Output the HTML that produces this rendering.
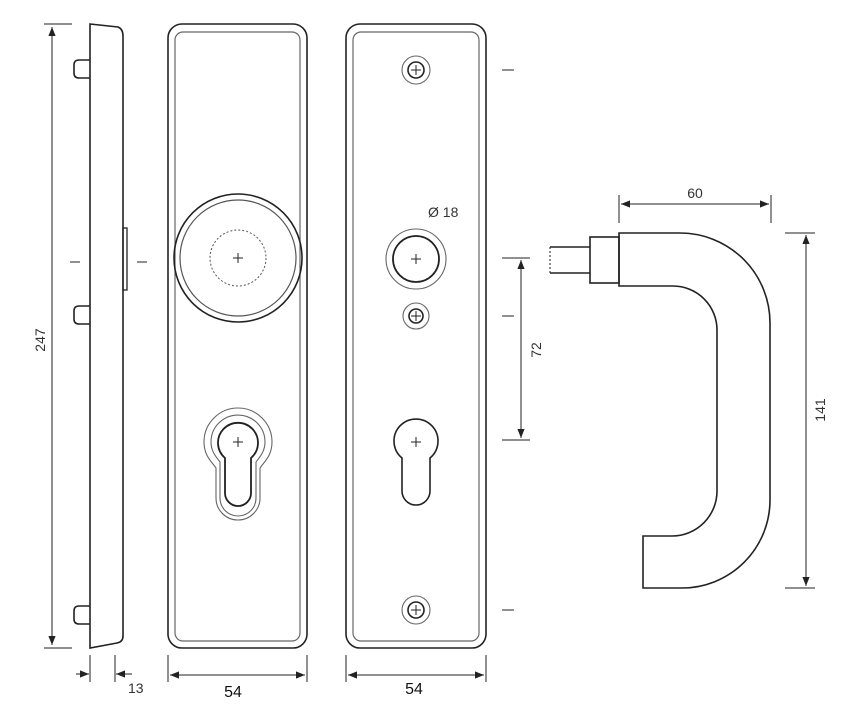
<!DOCTYPE html>
<html><head><meta charset="utf-8"><style>html,body{margin:0;padding:0;background:#fff}svg{display:block}</style></head><body>
<svg width="860" height="722" viewBox="0 0 860 722" xmlns="http://www.w3.org/2000/svg" font-family="Liberation Sans, sans-serif">
<defs>
<marker id="a" viewBox="0 0 10 10" refX="10" refY="5" markerWidth="9" markerHeight="9" orient="auto-start-reverse" markerUnits="userSpaceOnUse"><path d="M0,1 L10,5 L0,9 Z" fill="#222"/></marker>
</defs>
<g fill="none" stroke="#222" stroke-width="1.6">
<!-- side profile -->
<path d="M90,24 L118,27 Q123,29 123,36 V636 Q123,642 117,643 L90,648 Z"/>
<path d="M90,60 H79 Q74,60 74,65 V73 Q74,78 79,78 H90"/>
<path d="M90,306 H79 Q74,306 74,311 V319 Q74,324 79,324 H90"/>
<path d="M90,606 H79 Q74,606 74,611 V619 Q74,624 79,624 H90"/>
<rect x="123" y="228" width="4" height="62" stroke-width="1.3"/>
<!-- plate 1 -->
<rect x="168" y="24" width="139" height="624" rx="14"/>
<rect x="175" y="32" width="125" height="609" rx="8" stroke="#666" stroke-width="1.2"/>
<circle cx="238" cy="258" r="64"/>
<circle cx="238" cy="258" r="58" stroke="#555" stroke-width="1.2"/>
<circle cx="238" cy="258" r="28" stroke="#555" stroke-width="1" stroke-dasharray="2,2"/>
<path d="M238,442 m-34,0 a34,34 0 0 1 68,0 c0,14 -8,20 -12,26 V498 a16,16 0 0 1 -44,0 V468 c-4,-6 -12,-12 -12,-26 Z" stroke="#666" stroke-width="1.1"/>
<path d="M238,442 m-27,0 a27,27 0 0 1 54,0 c0,10 -6,16 -9,20 V498 a9,9 0 0 1 -36,0 V462 c-3,-4 -9,-10 -9,-20 Z" stroke="#666" stroke-width="1.1"/>
<path d="M225,458 A20,20 0 1 1 251,458 V493 a13,13 0 0 1 -26,0 Z" stroke-width="1.8"/>
<!-- plate 2 -->
<rect x="346" y="24" width="140" height="624" rx="14"/>
<rect x="353" y="32" width="126" height="609" rx="8" stroke="#666" stroke-width="1.2"/>
<circle cx="416" cy="70" r="14" stroke="#666" stroke-width="1.1"/><circle cx="416" cy="70" r="8"/>
<circle cx="416" cy="316" r="13" stroke="#666" stroke-width="1.1"/><circle cx="416" cy="316" r="7"/>
<circle cx="416" cy="610" r="14" stroke="#666" stroke-width="1.1"/><circle cx="416" cy="610" r="8"/>
<circle cx="416" cy="259" r="30" stroke="#666" stroke-width="1.1"/><circle cx="416" cy="259" r="23" stroke-width="1.8"/>
<path d="M402,458 A22,22 0 1 1 430,458 V491 a14,14 0 0 1 -28,0 Z"/>
<!-- handle -->
<path d="M550,247 H590 M550,273 H590"/><path d="M550,247 V273" stroke-width="1" stroke-dasharray="2,2"/>
<rect x="590" y="237" width="29" height="46"/>
<path d="M619,233 H680 A90,90 0 0 1 770,323 V500 A88,88 0 0 1 682,588 H643 V536 H672 A45,45 0 0 0 717,491 V330 A44,44 0 0 0 673,286 H619 Z"/>
</g>
<g fill="none" stroke="#222" stroke-width="1">
<!-- crosses -->
<path d="M233,258 H243 M238,253 V263 M233,442 H243 M238,437 V447 M411,259 H421 M416,254 V264 M411,442 H421 M416,437 V447"/>
<path d="M411,70 H421 M416,65 V75 M411,316 H421 M416,311 V321 M411,610 H421 M416,605 V615"/>
<!-- small dashes -->
<path d="M70,262 H80 M137,262 H147 M502,70 H514 M502,316 H514 M502,610 H514"/>
<!-- 247 -->
<path d="M44,24 H72 M44,648 H72"/>
<path d="M52,27 V645" marker-start="url(#a)" marker-end="url(#a)"/>
<!-- 13 -->
<path d="M90,655 V682 M115,655 V682"/>
<path d="M76,674 H89" marker-end="url(#a)"/><path d="M132,674 H116" marker-end="url(#a)"/>
<!-- 54 -->
<path d="M168,655 V682 M307,655 V682 M346,655 V682 M486,655 V682"/>
<path d="M170,675 H305" marker-start="url(#a)" marker-end="url(#a)"/>
<path d="M348,675 H484" marker-start="url(#a)" marker-end="url(#a)"/>
<!-- 72 -->
<path d="M502,258 H530 M502,440 H530"/>
<path d="M521,260 V438" marker-start="url(#a)" marker-end="url(#a)"/>
<!-- 60 -->
<path d="M619,195 V223 M771,195 V223"/>
<path d="M621,204 H769" marker-start="url(#a)" marker-end="url(#a)"/>
<!-- 141 -->
<path d="M785,233 H815 M785,588 H815"/>
<path d="M806,235 V586" marker-start="url(#a)" marker-end="url(#a)"/>
</g>
<g fill="#333" font-size="14">
<text x="45" y="340" transform="rotate(-90 45 340)" text-anchor="middle">247</text>
<text x="128" y="693">13</text>
<text x="233" y="697" text-anchor="middle" font-size="16" fill="#111">54</text>
<text x="414" y="694" text-anchor="middle" font-size="16" fill="#111">54</text>
<text x="428" y="217">Ø 18</text>
<text x="541" y="350" transform="rotate(-90 541 350)" text-anchor="middle">72</text>
<text x="695" y="198" text-anchor="middle">60</text>
<text x="825" y="410" transform="rotate(-90 825 410)" text-anchor="middle">141</text>
</g>
</svg>
</body></html>
